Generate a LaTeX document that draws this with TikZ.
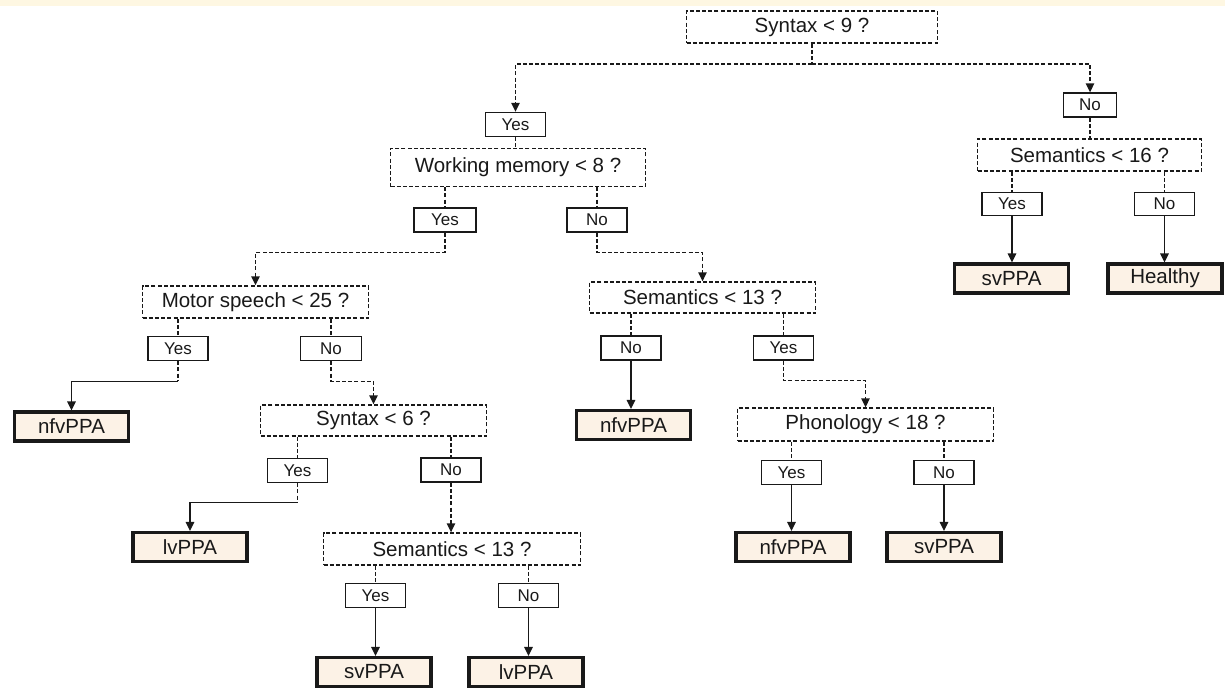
\documentclass[tikz,border=0pt]{standalone}
\usepackage{fontspec}
\setmainfont{Liberation Sans}
\usetikzlibrary{arrows.meta}
\definecolor{leaffill}{RGB}{252,242,230}
\definecolor{topband}{RGB}{254,247,226}
\definecolor{ink}{RGB}{25,25,25}
\begin{document}
\begin{tikzpicture}[x=1pt,y=-1pt,
 every node/.style={text=ink},
 decbox/.style={draw=ink, dash pattern=on 4pt off 2.2pt, line width=1.4pt, fill=white, inner sep=0pt, font=\fontsize{20.5}{24}\selectfont, minimum height=32pt},
 labbox/.style={draw=ink, line width=1.4pt, fill=white, inner sep=0pt, minimum width=60pt, minimum height=24pt, font=\fontsize{17}{20}\selectfont},
 leafbox/.style={draw=ink, line width=3.2pt, fill=leaffill, inner sep=0pt, minimum width=114pt, minimum height=29pt, font=\fontsize{20.5}{24}\selectfont},
 dl/.style={draw=ink, line width=1.4pt, dash pattern=on 4pt off 2.2pt},
 sl/.style={draw=ink, line width=1.4pt},
 arr/.style={-{Triangle[length=9pt,width=8.5pt]}}
]
\useasboundingbox (0,0) rectangle (1225,689);
\fill[white] (0,0) rectangle (1225,689);
\fill[topband] (0,0) rectangle (1225,6);

% decision nodes
\node[decbox, minimum width=251pt] (s9) at (812,27) {Syntax < 9 ?};
\node[decbox, minimum width=255pt, minimum height=38pt] (wm) at (518,167.5) {Working memory < 8 ?};
\node[decbox, minimum width=224pt] (sem16) at (1089.5,155) {Semantics < 16 ?};
\node[decbox, minimum width=226pt] (motor) at (255.5,302) {Motor speech < 25 ?};
\node[decbox, minimum width=226pt, minimum height=31pt] (sema) at (702.5,297.5) {Semantics < 13 ?};
\node[decbox, minimum width=226pt, minimum height=31pt] (syn6) at (373.5,420.5) {Syntax < 6 ?};
\node[decbox, minimum width=256pt, minimum height=33pt] (phon) at (865.5,424.5) {Phonology < 18 ?};
\node[decbox, minimum width=257pt] (semb) at (452,549) {Semantics < 13 ?};

% label nodes
\node[labbox] (y1) at (515.5,124.5) {Yes};
\node[labbox, minimum width=53pt] (n1) at (1090,105) {No};
\node[labbox, minimum width=62pt] (wmy) at (445,220) {Yes};
\node[labbox] (wmn) at (597,220) {No};
\node[labbox, minimum height=23pt] (s16y) at (1012,204) {Yes};
\node[labbox, minimum height=23pt] (s16n) at (1164.5,204) {No};
\node[labbox] (moty) at (178,348.5) {Yes};
\node[labbox, minimum width=61pt] (motn) at (331,348.5) {No};
\node[labbox] (sean) at (631,348) {No};
\node[labbox] (seay) at (783.5,348) {Yes};
\node[labbox] (syny) at (297.5,470.5) {Yes};
\node[labbox] (synn) at (451,470) {No};
\node[labbox] (phoy) at (791.5,472.5) {Yes};
\node[labbox] (phonn) at (944,472.5) {No};
\node[labbox] (seby) at (375.5,595.5) {Yes};
\node[labbox] (sebn) at (528.5,595.5) {No};

% leaves
\node[leafbox] (l1) at (1011.5,278.5) {svPPA};
\node[leafbox] (l2) at (1165,278.5) {Healthy};
\node[leafbox] (l3) at (71.5,426.5) {nfvPPA};
\node[leafbox] (l4) at (633.5,425) {nfvPPA};
\node[leafbox] (l5) at (190,547) {lvPPA};
\node[leafbox] (l6) at (793,547) {nfvPPA};
\node[leafbox] (l7) at (944,547) {svPPA};
\node[leafbox] (l8) at (374,672) {svPPA};
\node[leafbox] (l9) at (526,672) {lvPPA};

% top split
\coordinate (j0) at (812,64);
\draw[dl] (s9.south) -- (j0);
\draw[dl,arr] (j0) -| (y1.north);
\draw[dl,arr] (j0) -| (n1.north);
\draw[dl] (y1.south) -- (y1.south |- wm.north);
\draw[dl] (n1.south) -- (n1.south |- sem16.north);

% decision to labels
\draw[dl] (wmy.north |- wm.south) -- (wmy.north);
\draw[dl] (wmn.north |- wm.south) -- (wmn.north);
\draw[dl] (s16y.north |- sem16.south) -- (s16y.north);
\draw[dl] (s16n.north |- sem16.south) -- (s16n.north);
\draw[dl] (moty.north |- motor.south) -- (moty.north);
\draw[dl] (motn.north |- motor.south) -- (motn.north);
\draw[dl] (sean.north |- sema.south) -- (sean.north);
\draw[dl] (seay.north |- sema.south) -- (seay.north);
\draw[dl] (syny.north |- syn6.south) -- (syny.north);
\draw[dl] (synn.north |- syn6.south) -- (synn.north);
\draw[dl] (phoy.north |- phon.south) -- (phoy.north);
\draw[dl] (phonn.north |- phon.south) -- (phonn.north);
\draw[dl] (seby.north |- semb.south) -- (seby.north);
\draw[dl] (sebn.north |- semb.south) -- (sebn.north);

% labels to next decisions
\draw[dl,arr] (wmy.south) -- ++(0,20) -| (motor.north);
\draw[dl,arr] (wmn.south) -- ++(0,20) -| (sema.north);
\draw[dl,arr] (motn.south) -- ++(0,20) -| (syn6.north);
\draw[dl,arr] (seay.south) -- ++(0,20) -| (phon.north);
\draw[dl,arr] (synn.south) -- (synn.south |- semb.north);

% labels to leaves
\draw[sl,arr] (s16y.south) -- (s16y.south |- l1.north);
\draw[sl,arr] (s16n.south) -- (s16n.south |- l2.north);
\draw[sl,arr] (sean.south) -- (sean.south |- l4.north);
\draw[sl,arr] (phoy.south) -- (phoy.south |- l6.north);
\draw[sl,arr] (phonn.south) -- (phonn.south |- l7.north);
\draw[sl,arr] (seby.south) -- (seby.south |- l8.north);
\draw[sl,arr] (sebn.south) -- (sebn.south |- l9.north);
\draw[dl] (moty.south) -- ++(0,20) coordinate (e1);
\draw[sl,arr] (e1) -| (l3.north);
\draw[dl] (syny.south) -- ++(0,19) coordinate (e2);
\draw[sl,arr] (e2) -| (l5.north);
\end{tikzpicture}
\end{document}
